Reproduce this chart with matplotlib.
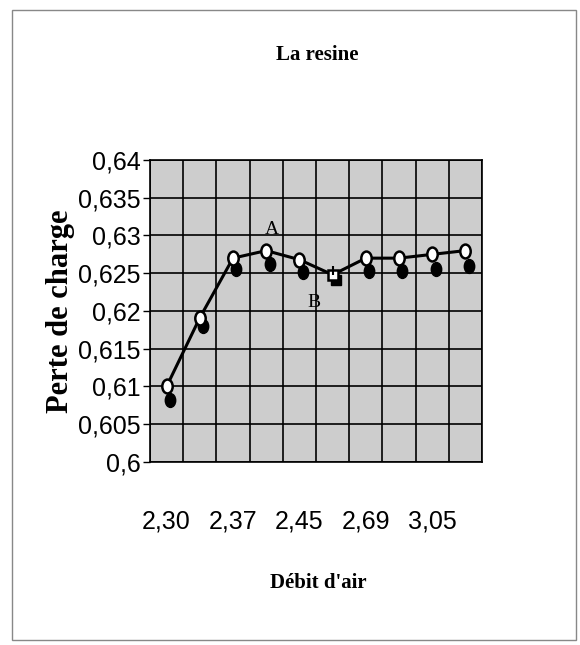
import numpy as np
import matplotlib
matplotlib.use('Agg')
import matplotlib.pyplot as plt
from matplotlib.markers import MarkerStyle
from matplotlib.transforms import Affine2D, offset_copy
from matplotlib.patches import Rectangle

# donnees
debit = ['2,30', '', '2,37', '', '2,45', '', '2,69', '', '3,05', '']
perte = [0.610, 0.6191, 0.6270, 0.6280, 0.6268, 0.6248, 0.6270, 0.6270, 0.6275, 0.6280]
perte_b = [0.6088, 0.6185, 0.6261, 0.6268, 0.6257, 0.6246, 0.6258, 0.6258, 0.6261, 0.6265]
yticks = [0.6, 0.605, 0.61, 0.615, 0.62, 0.625, 0.63, 0.635, 0.64]
ylabels = ['0,6', '0,605', '0,61', '0,615', '0,62', '0,625', '0,63', '0,635', '0,64']

plt.rcParams['font.family'] = ['Liberation Sans', 'DejaVu Sans']

fig = plt.figure(figsize=(5.8, 6.45), dpi=100)
fig.patches.append(Rectangle((12/580, 5/645), 564/580, 630/645, transform=fig.transFigure,
                             fill=False, edgecolor='#888888', linewidth=1.0))

ax = fig.add_axes([150/580, 1-462/645, 332/580, 302/645])
ax.set_facecolor('#cdcdcd')

x = np.arange(len(perte))
ell = MarkerStyle('o', transform=Affine2D().scale(0.75, 1.0))
sq = MarkerStyle('s')

# ombre (points noirs)
shadow = offset_copy(ax.transData, fig=fig, x=2.5, y=-3, units='points')
for i in range(len(perte_b)):
    ax.plot(x[i], perte_b[i], marker=sq if i == 5 else ell, markersize=10 if i != 5 else 7,
            color='black', transform=shadow, zorder=3)

ax.plot(x, perte, color='black', linewidth=2.2, zorder=4)
for i in range(len(perte)):
    ax.plot(x[i], perte[i], marker=sq if i == 5 else ell, markersize=10 if i != 5 else 7,
            markerfacecolor='white', markeredgecolor='black', markeredgewidth=1.8, zorder=5)
ax.vlines(x[5], perte[5], perte[5] + 0.0012, color='black', linewidth=1.5, zorder=5)

ax.text(x[3] - 0.05, 0.6302, 'A', fontsize=14, family='Liberation Serif', zorder=6)
ax.text(x[5] - 0.75, 0.6205, 'B', fontsize=14, family='Liberation Serif', zorder=6)

ax.set_xlim(-0.5, len(perte) - 0.5)
ax.set_ylim(0.6, 0.64)
ax.set_xticks(x)
ax.set_xticklabels(debit, fontsize=18)
ax.set_xticks(np.arange(-0.5, len(perte), 1.0), minor=True)
ax.set_yticks(yticks)
ax.set_yticklabels(ylabels, fontsize=18)
ax.tick_params(axis='x', which='major', length=0, pad=34)
ax.tick_params(axis='x', which='minor', length=0)
ax.tick_params(axis='y', length=5, width=1, pad=2)
ax.grid(True, which='minor', axis='x', color='black', linewidth=1.2)
ax.grid(True, which='major', axis='y', color='black', linewidth=1.2)
ax.set_axisbelow(True)
for s in ax.spines.values():
    s.set_linewidth(1.2)

ax.set_ylabel('Perte de charge', fontsize=22, fontweight='bold', family='Liberation Serif', labelpad=2)
fig.text(318/580, 1-583/645, "Débit d'air", fontsize=15, fontweight='bold', family='Liberation Serif',
         ha='center', va='center')
fig.text(317/580, 1-55/645, 'La resine', fontsize=15, fontweight='bold', family='Liberation Serif',
         ha='center', va='center')

fig.savefig('out.png', dpi=100)
